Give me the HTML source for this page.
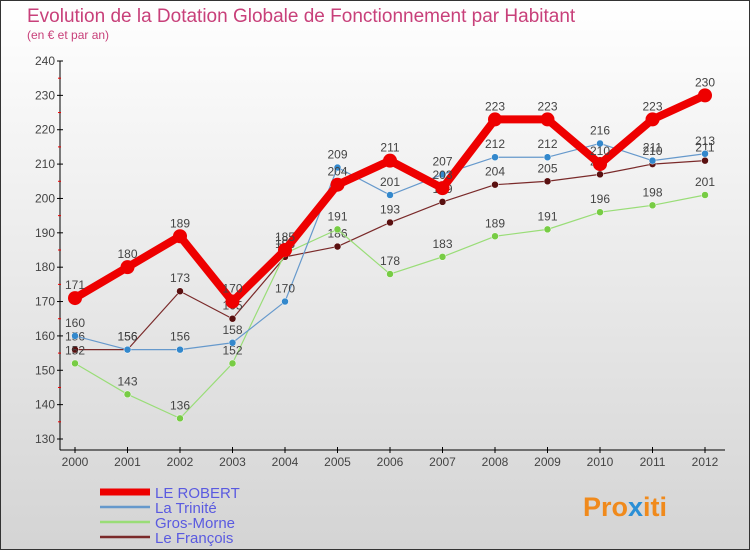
<!DOCTYPE html>
<html><head><meta charset="utf-8"><style>
body{margin:0;}
#wrap{width:750px;height:550px;position:relative;overflow:hidden;font-family:"Liberation Sans",sans-serif;}
</style></head><body>
<div id="wrap">
<svg id="chart" width="750" height="550" xmlns="http://www.w3.org/2000/svg">
<defs><linearGradient id="bg" x1="0" y1="0" x2="0" y2="1"><stop offset="0" stop-color="#ffffff"/><stop offset="1" stop-color="#d4d4d4"/></linearGradient></defs>
<rect x="0.5" y="0.5" width="749" height="549" fill="url(#bg)" stroke="#333"/>
<text x="27" y="22" font-size="19" fill="#c8407a">Evolution de la Dotation Globale de Fonctionnement par Habitant</text>
<text x="27" y="39" font-size="12" fill="#c8407a">(en € et par an)</text>
<g id="axes"></g>
<g id="series"></g>
<g id="legend"></g>
<text x="583" y="516" font-size="27" font-weight="bold" fill="#f08a1c">Pro<tspan fill="#2a8fd6">x</tspan>iti</text>
</svg>
</div>
<script>
const years=["2000","2001","2002","2003","2004","2005","2006","2007","2008","2009","2010","2011","2012"];
const yTicks=[130,140,150,160,170,180,190,200,210,220,230,240];
const robert=[171,180,189,170,185,204,211,203,223,223,210,223,230];
const trinite=[160,156,156,158,170,209,201,207,212,212,216,211,213];
const grosMorne=[152,143,136,152,184,191,178,183,189,191,196,198,201];
const francois=[156,156,173,165,183,186,193,199,204,205,207,210,211];
const NS="http://www.w3.org/2000/svg";
const x0=75,dx=52.5,yTop=61,yBot=439,vMin=130,vMax=240;
function X(i){return x0+i*dx;}
function Y(v){return yBot-(v-vMin)/(vMax-vMin)*(yBot-yTop);}
function mk(tag,attrs,parent){const e=document.createElementNS(NS,tag);for(const k in attrs)e.setAttribute(k,attrs[k]);parent.appendChild(e);return e;}
const axes=document.getElementById('axes');
let a=mk('line',{x1:60,y1:61,x2:60,y2:450,stroke:'#000'},axes);


a=mk('line',{x1:60,y1:450,x2:725,y2:450,stroke:'#000'},axes);


yTicks.forEach(v=>{
  const y=Y(v);
  let t=mk('line',{x1:57,y1:y,x2:63,y2:y,stroke:'#000'},axes);
  
  
  let l=mk('text',{x:55,y:y+4,'font-size':12,fill:'#444','text-anchor':'end'},axes);
  l.textContent=v;
  
  
  if(v<vMax){const ym=(Y(v)+Y(v+10))/2;let m=mk('line',{x1:58,y1:ym,x2:61,y2:ym,stroke:'#e00'},axes);
  
  }
});
years.forEach((yr,i)=>{
  let t=mk('line',{x1:X(i),y1:447,x2:X(i),y2:453,stroke:'#000'},axes);
  
  
  let l=mk('text',{x:X(i),y:466,'font-size':12,fill:'#444','text-anchor':'middle'},axes);
  l.textContent=yr;
  
  
});
const seriesG=document.getElementById('series');
const defs=[
 {name:'Le François',data:francois,color:'#7a2a2a',dot:'#5a1010',w:1.2,r:3.5},
 {name:'Gros-Morne',data:grosMorne,color:'#99dd77',dot:'#77cc44',w:1.2,r:3.5},
 {name:'La Trinité',data:trinite,color:'#6699cc',dot:'#3388cc',w:1.2,r:3.5},
 {name:'LE ROBERT',data:robert,color:'#ee0000',dot:'#ee0000',w:8,r:7}
];
defs.forEach(s=>{
  const g=mk('g',{},seriesG);
  
  
  const p=mk('polyline',{points:s.data.map((v,i)=>X(i)+','+Y(v)).join(' '),fill:'none',stroke:s.color,'stroke-width':s.w,'stroke-linejoin':'round'},g);
  
  
  s.data.forEach((v,i)=>{
    const c=mk('circle',{cx:X(i),cy:Y(v),r:s.r,fill:s.dot,stroke:s.w>2?'none':'#fff','stroke-width':0.5},g);
    
    
    const t=mk('text',{x:X(i),y:Y(v)-9,'font-size':12,fill:'#444','text-anchor':'middle'},g);
    t.textContent=v;
    
    
  });
});
const lg=document.getElementById('legend');
[defs[3],defs[2],defs[1],defs[0]].forEach((s,k)=>{
  const y=492+k*15;
  const g=mk('g',{},lg);
  
  
  mk('line',{x1:100,y1:y,x2:150,y2:y,stroke:s.color,'stroke-width':s.w>2?7:2.5},g);
  const t=mk('text',{x:155,y:y+6,'font-size':15,fill:'#5a5ae0'},g);
  t.textContent=s.name;
});
</script>
</body></html>
